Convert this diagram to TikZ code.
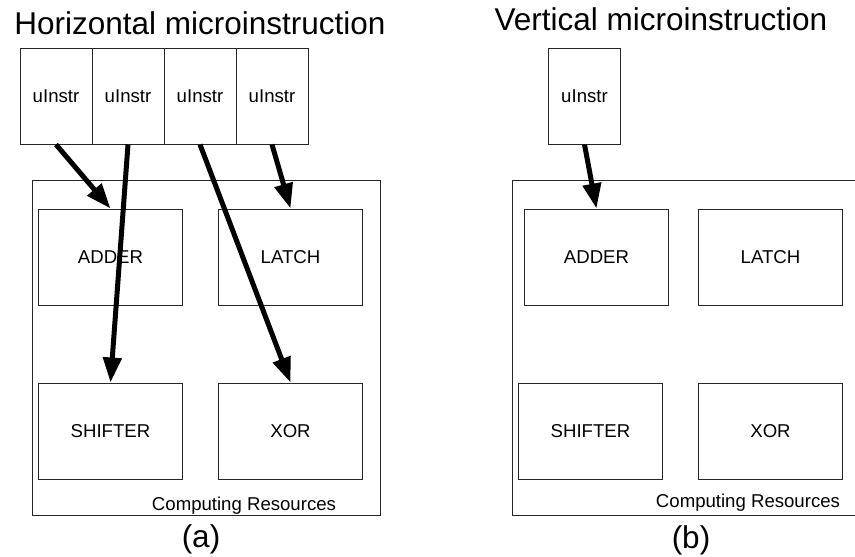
\documentclass[tikz,border=0pt]{standalone}
\usepackage{fontspec}
\setmainfont{Liberation Sans}
\usepackage{tikz}
\usetikzlibrary{arrows.meta, positioning}
\tikzset{
    cellnode/.style = {draw=black!85, rectangle, line width=1pt, minimum width=72pt, minimum height=96pt,
      inner sep=0em, node distance=0em, font=\fontsize{18.6}{20}\selectfont},
    unitnode/.style = {draw=black!85, rectangle, line width=1pt, minimum width=144pt, minimum height=96pt,
      inner sep=0em, node distance=0em, font=\fontsize{18.6}{20}\selectfont},
    framenode/.style = {draw=black!85, rectangle, line width=1pt, minimum width=348pt, minimum height=335pt,
      inner sep=0em},
    textnode/.style = {draw=none, fill=none, inner sep=0em, anchor=base, font=\fontsize{18.6}{20}\selectfont},
    titlenode/.style = {draw=none, fill=none, inner sep=0em, anchor=base, font=\fontsize{31.5}{34}\selectfont},
    connect/.style = {black, line width=5pt, -{Triangle[length=25pt,width=18pt]}}
}

\begin{document}
\begin{tikzpicture}[x=1pt, y=-1pt]
\clip (0,0) rectangle (855,557);

% (a) horizontal
\node [titlenode, name=titleA] at (200,34) {Horizontal microinstruction};
\node [framenode, name=resA] at (206,347.5) {};
\node [cellnode, name=u1] at (56,96) {uInstr};
\node [cellnode, name=u2, right of = u1, xshift=72pt] {uInstr};
\node [cellnode, name=u3, right of = u2, xshift=72pt] {uInstr};
\node [cellnode, name=u4, right of = u3, xshift=72pt] {uInstr};

\node [unitnode, name=adderA] at (110.5,257) {ADDER};
\node [unitnode, name=latchA, right of = adderA, xshift=180pt] {LATCH};
\node [unitnode, name=shiftA, below of = adderA, yshift=-174pt] {SHIFTER};
\node [unitnode, name=xorA, right of = shiftA, xshift=180pt] {XOR};
\node [textnode, name=compA] at (244,510) {Computing Resources};
\node [titlenode, name=capA] at (201,547) {(a)};

\draw [connect] (u1.south) -- (adderA.north);
\draw [connect] (u2.south) -- (shiftA.north);
\draw [connect] (u3.south) -- (xorA.north);
\draw [connect] (u4.south) -- (latchA.north);

% (b) vertical
\node [titlenode, name=titleB] at (661,30) {Vertical microinstruction};
\node [framenode, name=resB] at (686,347.5) {};
\node [cellnode, name=v1] at (584.5,96) {uInstr};

\node [unitnode, name=adderB] at (596.5,257) {ADDER};
\node [unitnode, name=latchB, right of = adderB, xshift=174pt] {LATCH};
\node [unitnode, name=shiftB] at (590.5,431) {SHIFTER};
\node [unitnode, name=xorB, below of = latchB, yshift=-174pt] {XOR};
\node [textnode, name=compB] at (748,507) {Computing Resources};
\node [titlenode, name=capB] at (691,548) {(b)};

\draw [connect] (v1.south) -- (adderB.north);
\end{tikzpicture}
\end{document}
